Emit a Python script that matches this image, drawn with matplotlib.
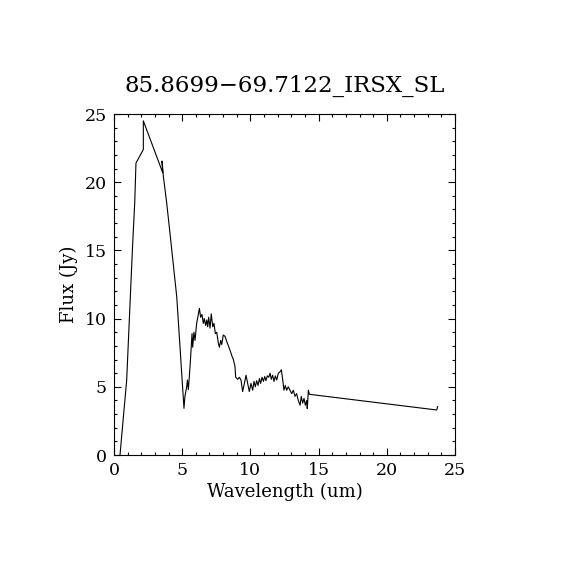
import numpy as np
from matplotlib import pyplot as plt

# spectrum (wavelength in um, flux in Jy)
wavelength = [0.44, 0.93, 1.25, 1.37, 1.52, 1.61, 2.15, 2.15, 3.57, 3.52, 3.61,
              3.86, 4.1, 4.6, 5.13, 5.2, 5.33, 5.38, 5.45, 5.52, 5.62, 5.72,
              5.77, 5.86, 5.94, 6.06, 6.18, 6.26, 6.35, 6.45, 6.55, 6.62, 6.72,
              6.8, 6.87, 6.94, 7.04, 7.13, 7.24, 7.33, 7.43, 7.53, 7.65, 7.73,
              7.82, 7.9, 8.01, 8.14, 8.31, 8.5, 8.63, 8.75, 8.87, 8.92, 9.07,
              9.19, 9.31, 9.43, 9.53, 9.68, 9.8, 9.92, 10.04, 10.17, 10.26,
              10.36, 10.46, 10.56, 10.66, 10.75, 10.85, 10.95, 11.05, 11.14,
              11.24, 11.34, 11.44, 11.53, 11.63, 11.73, 11.83, 11.93, 12.05,
              12.17, 12.27, 12.37, 12.46, 12.56, 12.66, 12.78, 12.9, 13.03,
              13.15, 13.27, 13.39, 13.51, 13.64, 13.73, 13.83, 13.93, 14.03,
              14.13, 14.17, 14.25, 14.32, 23.66, 23.73]
flux = [0.0, 5.5, 12.8, 15.5, 18.5, 21.4, 22.4, 24.5, 20.7, 21.55, 20.5,
        18.5, 16.3, 11.6, 3.42, 4.3, 5.0, 5.5, 4.8, 5.7, 7.2, 8.9,
        7.9, 9.0, 8.4, 9.65, 10.3, 10.75, 10.1, 10.3, 9.65, 10.0, 9.5,
        9.9, 9.4, 10.1, 9.3, 10.35, 9.4, 9.65, 8.9, 9.0, 8.2, 7.9,
        8.4, 8.1, 8.8, 8.7, 8.2, 7.7, 7.3, 7.0, 6.5, 5.7, 5.55,
        5.7, 5.5, 4.65, 5.1, 5.85, 5.25, 4.65, 5.25, 4.75, 5.4,
        5.0, 5.45, 5.1, 5.6, 5.25, 5.7, 5.4, 5.75, 5.45,
        5.8, 5.7, 6.0, 5.55, 5.85, 5.4, 5.8, 5.5, 6.0,
        6.1, 6.25, 5.5, 4.75, 5.1, 4.75, 5.0, 4.75, 4.5,
        4.75, 4.3, 4.5, 4.0, 3.65, 4.3, 3.8, 4.15, 3.65,
        4.0, 3.4, 4.75, 4.45, 3.3, 3.55]

title = '85.8699\u221269.7122_IRSX_SL'
font = 'DejaVu Serif'

fig = plt.figure(figsize=(5.7, 5.7), dpi=100)
ax = fig.add_axes([114 / 570, 115 / 570, 341 / 570, 341 / 570])

ax.plot(wavelength, flux, color='black', linewidth=0.8)

ax.set_xlim(0, 25)
ax.set_ylim(0, 25)
ax.set_xticks(np.arange(0, 26, 5))
ax.set_yticks(np.arange(0, 26, 5))
ax.set_xticks(np.arange(0, 26, 1), minor=True)
ax.set_yticks(np.arange(0, 26, 1), minor=True)
ax.tick_params(which='both', direction='in', top=True, right=True, width=0.8,
               labelsize=12.5, pad=5)
ax.tick_params(which='major', length=5)
ax.tick_params(which='minor', length=2.5)
for lab in ax.get_xticklabels() + ax.get_yticklabels():
    lab.set_family(font)
for sp in ax.spines.values():
    sp.set_linewidth(0.8)

ax.set_title(title, fontsize=16.5, family=font, pad=16)
ax.set_xlabel('Wavelength (um)', fontsize=13, family=font, labelpad=3)
ax.set_ylabel('Flux (Jy)', fontsize=13, family=font, labelpad=5)

fig.savefig('out.png', dpi=100)
